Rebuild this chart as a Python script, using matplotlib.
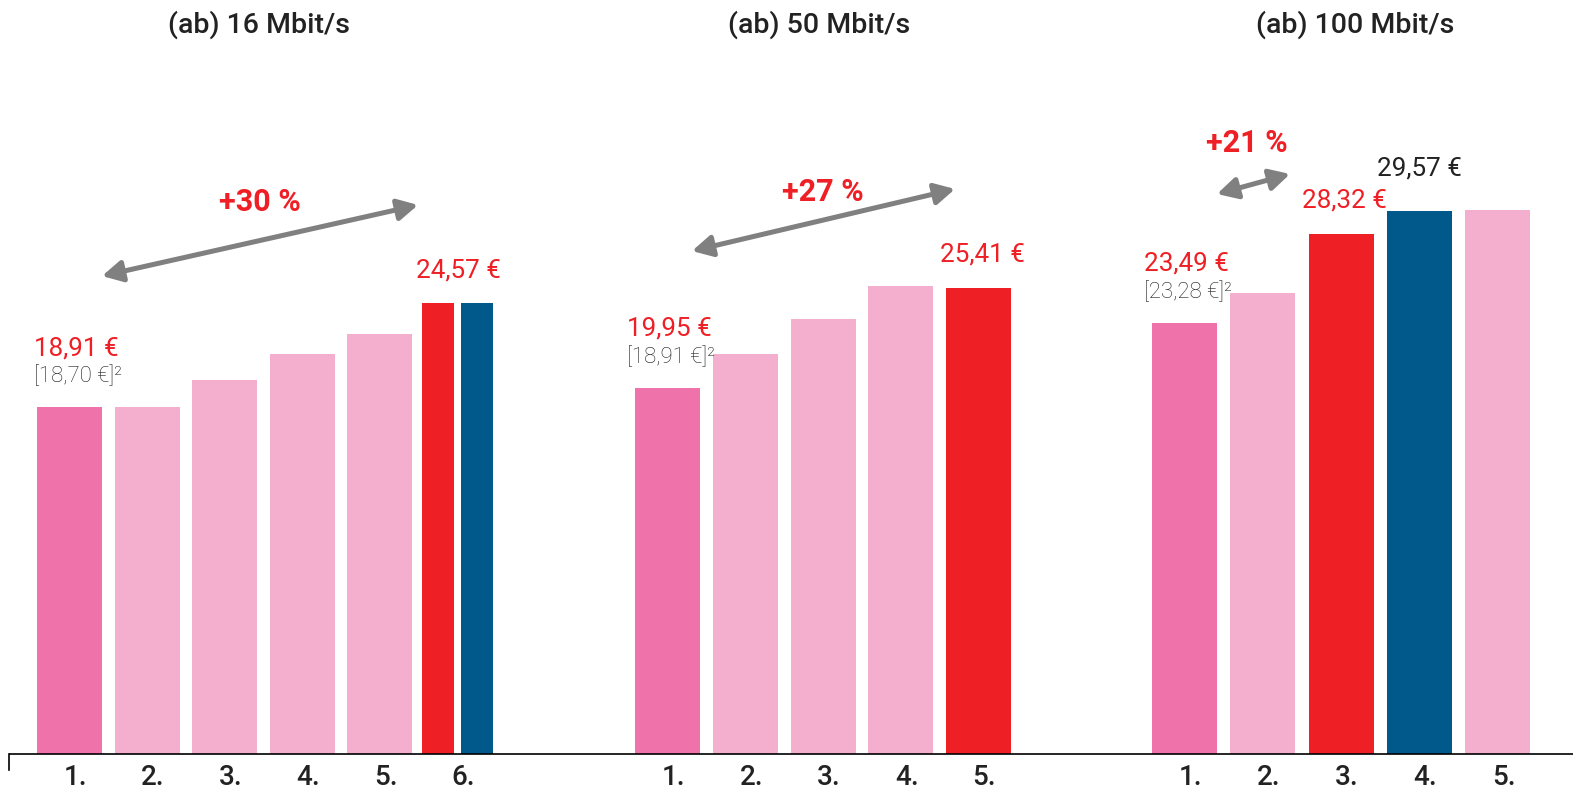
import numpy as np
import matplotlib
matplotlib.use("Agg")
import matplotlib.pyplot as plt

plt.rcParams['font.family'] = ['Roboto', 'DejaVu Sans']

# Farben
DUNKELROSA = '#F072AA'
HELLROSA = '#F4AECE'
ROT = '#EE1F25'
BLAU = '#00598A'
GRAU = '#808080'

# Daten je Geschwindigkeitsklasse (Monatspreis in €)
titel = ['(ab) 16 Mbit/s', '(ab) 50 Mbit/s', '(ab) 100 Mbit/s']
preise_16 = [18.91, 18.91, 20.36, 21.82, 22.90, 24.57, 24.57]
farben_16 = [DUNKELROSA, HELLROSA, HELLROSA, HELLROSA, HELLROSA, ROT, BLAU]
plaetze_16 = [0, 1, 2, 3, 4, 5, 5]
preise_50 = [19.95, 21.80, 23.70, 25.52, 25.41]
farben_50 = [DUNKELROSA, HELLROSA, HELLROSA, HELLROSA, ROT]
plaetze_50 = [0, 1, 2, 3, 4]
preise_100 = [23.49, 25.10, 28.32, 29.57, 29.63]
farben_100 = [DUNKELROSA, HELLROSA, ROT, BLAU, HELLROSA]
plaetze_100 = [0, 1, 2, 3, 4]
rang_16 = ['1.', '2.', '3.', '4.', '5.', '6.']
rang_50 = ['1.', '2.', '3.', '4.', '5.']
rang_100 = ['1.', '2.', '3.', '4.', '5.']
klammerpreise = [18.70, 18.91, 23.28]
anstieg = ['+30 %', '+27 %', '+21 %']

# Layout (Pixel der Abbildung)
W, H = 1573, 789
basis_px = 754
px_pro_euro = 18.35
gruppen_start = [69.5, 667.5, 1184.5]
schritte = [77.6, 77.75, 78.25]
breite = 65
halbbreite = 32

fig = plt.figure(figsize=(W / 100, H / 100), dpi=100)
ax = fig.add_axes([0, (H - basis_px) / H, 1, basis_px / H])
ax.set_xlim(0, W)
ax.set_ylim(0, basis_px / px_pro_euro)
ax.axis('off')

gruppen = [
    (preise_16, farben_16, plaetze_16, rang_16),
    (preise_50, farben_50, plaetze_50, rang_50),
    (preise_100, farben_100, plaetze_100, rang_100),
]

balken = []   # (links, wert) je Balken, pro Gruppe
for g, (preise, farben, plaetze, rang) in enumerate(gruppen):
    start = gruppen_start[g]
    schritt = schritte[g]
    liste = []
    for i, (p, f, pl) in enumerate(zip(preise, farben, plaetze)):
        mitte = start + pl * schritt
        n_gleich = plaetze.count(pl)
        if n_gleich == 2:
            # geteilter Platz: zwei schmale Balken nebeneinander
            k = [j for j, q in enumerate(plaetze) if q == pl].index(i)
            x = mitte - 19.5 + k * 39
            b = halbbreite
        else:
            x = mitte
            b = breite
        ax.bar(x, p, width=b, color=f, linewidth=0)
        liste.append((x - b / 2, p))
    balken.append(liste)
    for j, r in enumerate(rang):
        ax.text(start + j * schritt + 6, -10 / px_pro_euro, r,
                ha='center', va='top', fontsize=20, fontweight='medium',
                color='#222222')

# Grundlinie mit kleinem Haken links
ax.plot([9.3, W], [0, 0], color='black', lw=1.2, clip_on=False,
        solid_capstyle='butt')
ax.plot([9.3, 9.3], [0, -16 / px_pro_euro], color='black', lw=1.2,
        clip_on=False)


def euro(v):
    return f'{v:.2f} €'.replace('.', ',')


# Preisbeschriftungen: (Gruppe, Balken, Farbe, dx, dy)
beschriftung = [
    (0, 0, ROT, -3, 52),
    (0, 5, ROT, -6, 26),
    (1, 0, ROT, -8, 52),
    (1, 4, ROT, -6, 26),
    (2, 0, ROT, -8, 52),
    (2, 2, ROT, -7, 27),
    (2, 3, '#222222', -10, 36),
]
for g, i, farbe, dx, dy in beschriftung:
    links, wert = balken[g][i]
    ax.annotate(euro(wert), xy=(links, wert), xytext=(dx, dy),
                textcoords='offset pixels', ha='left', va='baseline',
                fontsize=18.7, color=farbe)

# Vorjahrespreise in Klammern unter dem ersten Preis
for g, v in enumerate(klammerpreise):
    links, wert = balken[g][0]
    dx = -3 if g == 0 else -8
    ax.annotate('[' + euro(v) + ']²', xy=(links, wert), xytext=(dx, 25),
                textcoords='offset pixels', ha='left', va='baseline',
                fontsize=16, fontweight='light', color='#1e1e1e')

# Pfeile und Preisanstieg
pfeile = [((102, 276), (418, 205)), ((692, 251), (955, 189)),
          ((1217, 194), (1290, 174))]
anstieg_pos = [(260, 211), (823, 201), (1247, 152)]
for (a, b), txt, (tx, ty) in zip(pfeile, anstieg, anstieg_pos):
    ax.annotate('', xy=(b[0], H - b[1]), xytext=(a[0], H - a[1]),
                xycoords='figure pixels', textcoords='figure pixels',
                arrowprops=dict(arrowstyle='<|-|>,head_length=0.6,head_width=0.32',
                                mutation_scale=20, color=GRAU, lw=3.6,
                                shrinkA=0, shrinkB=0))
    fig.text(tx / W, 1 - ty / H, txt, ha='center', va='baseline',
             fontsize=22, fontweight='bold', color=ROT)

# Überschriften der Gruppen
for t, x in zip(titel, [258.5, 819, 1355.5]):
    fig.text(x / W, 1 - 33 / H, t, ha='center', va='baseline',
             fontsize=20.5, fontweight='medium', color='#222222')

fig.savefig('out.png', dpi=100)
